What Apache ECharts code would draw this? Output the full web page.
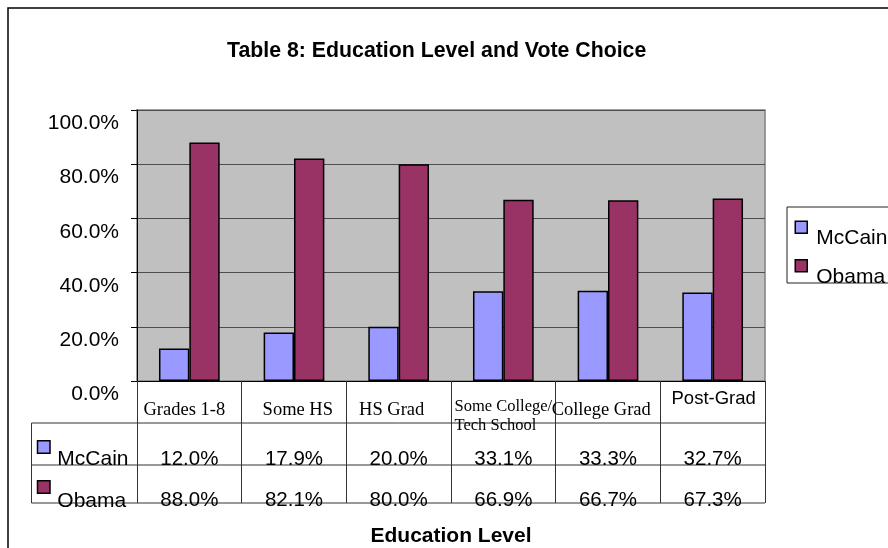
<!DOCTYPE html>
<html>
<head>
<meta charset="utf-8">
<script src="https://cdn.jsdelivr.net/npm/echarts@6/dist/echarts.min.js"></script>
<style>
  html, body { margin: 0; padding: 0; background: #ffffff; }
  #chart { width: 888px; height: 548px; }
</style>
</head>
<body>
<div id="chart"></div>
<script>
// ---- data ----
const categories = ['Grades 1-8', 'Some HS', 'HS Grad', 'Some College/\nTech School', 'College Grad', 'Post-Grad'];
const seriesNames = ['McCain', 'Obama'];
const mccain = [12.0, 17.9, 20.0, 33.1, 33.3, 32.7];
const obama = [88.0, 82.1, 80.0, 66.9, 66.7, 67.3];
const yTickValues = [0, 20, 40, 60, 80, 100];

// ---- look ----
const colors = ['#9999FF', '#993366'];
const SANS = '"Liberation Sans", Arial, sans-serif';
const SERIF = '"Liberation Serif", "Times New Roman", serif';
const plot = { left: 137, top: 110, width: 628, height: 271 };
const plotBottom = plot.top + plot.height;
const plotRight = plot.left + plot.width;
const table = { left: 31.5, rowTop: 423, rowMid: 465, rowBottom: 503 };
const lineColor = '#333333';

const pct = v => v.toFixed(1) + '%';

// one rich style per category label (the header cells are laid out individually)
const labelKeys = ['c0', 'c1', 'c2', 's', 'c4', 'p5'];
function categoryLabel(value, idx) {
  const key = labelKeys[idx];
  if (key === 's') {
    const lines = value.split('\n');
    return '{s1|' + lines[0] + '}\n{s2|' + lines[1] + '}';
  }
  return '{' + key + '|' + value + '}';
}
const serifCell = (pad) => ({ fontFamily: SERIF, fontSize: 18.5, lineHeight: 19, color: '#000', padding: pad });

// legend entry: text sits a little lower than its swatch
const legendText = {
  formatter: name => '{n|' + name + '}',
  textStyle: { rich: { n: { fontFamily: SANS, fontSize: 21, color: '#000', padding: [22, 0, 0, 4] } } }
};

const chart = echarts.init(document.getElementById('chart'), null, { renderer: 'canvas' });

const option = {
  animation: false,
  backgroundColor: '#ffffff',
  title: {
    text: 'Table 8: Education Level and Vote Choice',
    left: 227,
    top: 40.5,
    padding: 0,
    textStyle: { fontFamily: SANS, fontSize: 21.3, fontWeight: 'bold', color: '#000', lineHeight: 21 }
  },
  legend: [
    Object.assign({
      data: [seriesNames[0]],
      left: 794.5, top: 220.5, padding: 0,
      itemWidth: 12, itemHeight: 12, icon: 'rect',
      itemStyle: { borderColor: '#000', borderWidth: 1.5 }
    }, legendText),
    Object.assign({
      data: [seriesNames[1]],
      left: 794.5, top: 259, padding: 0,
      itemWidth: 12, itemHeight: 12, icon: 'rect',
      itemStyle: { borderColor: '#000', borderWidth: 1.5 }
    }, legendText)
  ],
  grid: {
    left: plot.left, top: plot.top, width: plot.width, height: plot.height,
    show: true, backgroundColor: '#C0C0C0', borderColor: '#808080', borderWidth: 1.5,
    containLabel: false
  },
  xAxis: [
    {
      type: 'category',
      data: categories,
      position: 'bottom',
      name: 'Education Level',
      nameLocation: 'middle',
      nameGap: 144.5,
      nameTextStyle: { fontFamily: SANS, fontSize: 21, fontWeight: 'bold', color: '#000', lineHeight: 21 },
      axisLine: { show: true, lineStyle: { color: '#000', width: 1 } },
      axisTick: { show: true, interval: 0, inside: false, length: table.rowBottom - plotBottom, lineStyle: { color: lineColor, width: 1 } },
      axisLabel: {
        interval: 0, margin: 4, hideOverlap: false,
        formatter: categoryLabel,
        rich: {
          c0: serifCell([31, 10, 0, 0]),
          c1: serifCell([31, 0, 0, 7.6]),
          c2: serifCell([31, 14, 0, 0]),
          c4: serifCell([31, 13.6, 0, 0]),
          s1: { fontFamily: SERIF, fontSize: 16.5, lineHeight: 18.5, color: '#000', align: 'left', padding: [25.5, 0, 0, 0] },
          s2: { fontFamily: SERIF, fontSize: 16.5, lineHeight: 18.5, color: '#000', align: 'left', padding: [25.5, 0, 0, 0] },
          p5: { fontFamily: SANS, fontSize: 18.5, lineHeight: 19, color: '#000', padding: [8.4, 0, 0, 2] }
        }
      },
      splitLine: { show: false }
    },
    {
      // data-table row: McCain values
      type: 'category',
      data: categories,
      position: 'bottom',
      axisLine: { show: false }, axisTick: { show: false }, splitLine: { show: false },
      axisLabel: {
        interval: 0, margin: 67.8, hideOverlap: false,
        fontFamily: SANS, fontSize: 20.5, lineHeight: 21, color: '#000',
        formatter: (v, i) => pct(mccain[i])
      }
    },
    {
      // data-table row: Obama values
      type: 'category',
      data: categories,
      position: 'bottom',
      axisLine: { show: false }, axisTick: { show: false }, splitLine: { show: false },
      axisLabel: {
        interval: 0, margin: 108.5, hideOverlap: false,
        fontFamily: SANS, fontSize: 20.5, lineHeight: 21, color: '#000',
        formatter: (v, i) => pct(obama[i])
      }
    }
  ],
  yAxis: {
    type: 'value',
    min: yTickValues[0],
    max: yTickValues[yTickValues.length - 1],
    interval: yTickValues[1] - yTickValues[0],
    axisLine: { show: true, lineStyle: { color: '#000', width: 1 } },
    axisTick: { show: true, length: 6, lineStyle: { color: '#000' } },
    axisLabel: {
      margin: 18,
      formatter: v => '{v|' + pct(v) + '}',
      rich: { v: { fontFamily: SANS, fontSize: 21, color: '#000', padding: [27, 0, 0, 0] } }
    },
    splitLine: { show: true, lineStyle: { color: '#4d4d4d', width: 1 } }
  },
  series: [
    {
      name: seriesNames[0], type: 'bar', xAxisIndex: 0, data: mccain,
      barGap: '0%', barCategoryGap: '42%',
      itemStyle: { color: colors[0], borderColor: '#000', borderWidth: 1.5 }
    },
    {
      name: seriesNames[1], type: 'bar', xAxisIndex: 0, data: obama,
      barGap: '0%', barCategoryGap: '42%',
      itemStyle: { color: colors[1], borderColor: '#000', borderWidth: 1.5 }
    }
  ],
  graphic: [
    // chart frame
    { type: 'rect', silent: true, z: 0, shape: { x: 8, y: 8, width: 900, height: 560 },
      style: { fill: 'none', stroke: '#000', lineWidth: 1.5 } },
    // legend frame
    { type: 'rect', silent: true, shape: { x: 787, y: 207, width: 130, height: 76 },
      style: { fill: 'none', stroke: '#222', lineWidth: 1 } },
    // data table grid lines
    { type: 'line', silent: true, shape: { x1: table.left, y1: table.rowTop, x2: plotRight, y2: table.rowTop },
      style: { stroke: lineColor, lineWidth: 1 } },
    { type: 'line', silent: true, shape: { x1: table.left, y1: table.rowMid, x2: plotRight, y2: table.rowMid },
      style: { stroke: lineColor, lineWidth: 1 } },
    { type: 'line', silent: true, shape: { x1: table.left, y1: table.rowBottom, x2: plotRight, y2: table.rowBottom },
      style: { stroke: lineColor, lineWidth: 1 } },
    { type: 'line', silent: true, shape: { x1: table.left, y1: table.rowTop, x2: table.left, y2: table.rowBottom },
      style: { stroke: lineColor, lineWidth: 1 } },
    // data table row headers: swatch + series name
    { type: 'rect', silent: true, shape: { x: 37.5, y: 440.75, width: 12.5, height: 12.5 },
      style: { fill: colors[0], stroke: '#000', lineWidth: 1.5 } },
    { type: 'text', silent: true, x: 57.3, y: 459,
      style: { text: seriesNames[0], fontFamily: SANS, fontSize: 21, fill: '#000', align: 'left', verticalAlign: 'middle' } },
    { type: 'rect', silent: true, shape: { x: 37.5, y: 480.75, width: 12.5, height: 12.5 },
      style: { fill: colors[1], stroke: '#000', lineWidth: 1.5 } },
    { type: 'text', silent: true, x: 57.3, y: 501,
      style: { text: seriesNames[1], fontFamily: SANS, fontSize: 21, fill: '#000', align: 'left', verticalAlign: 'middle' } }
  ]
};

chart.setOption(option);
</script>
</body>
</html>
